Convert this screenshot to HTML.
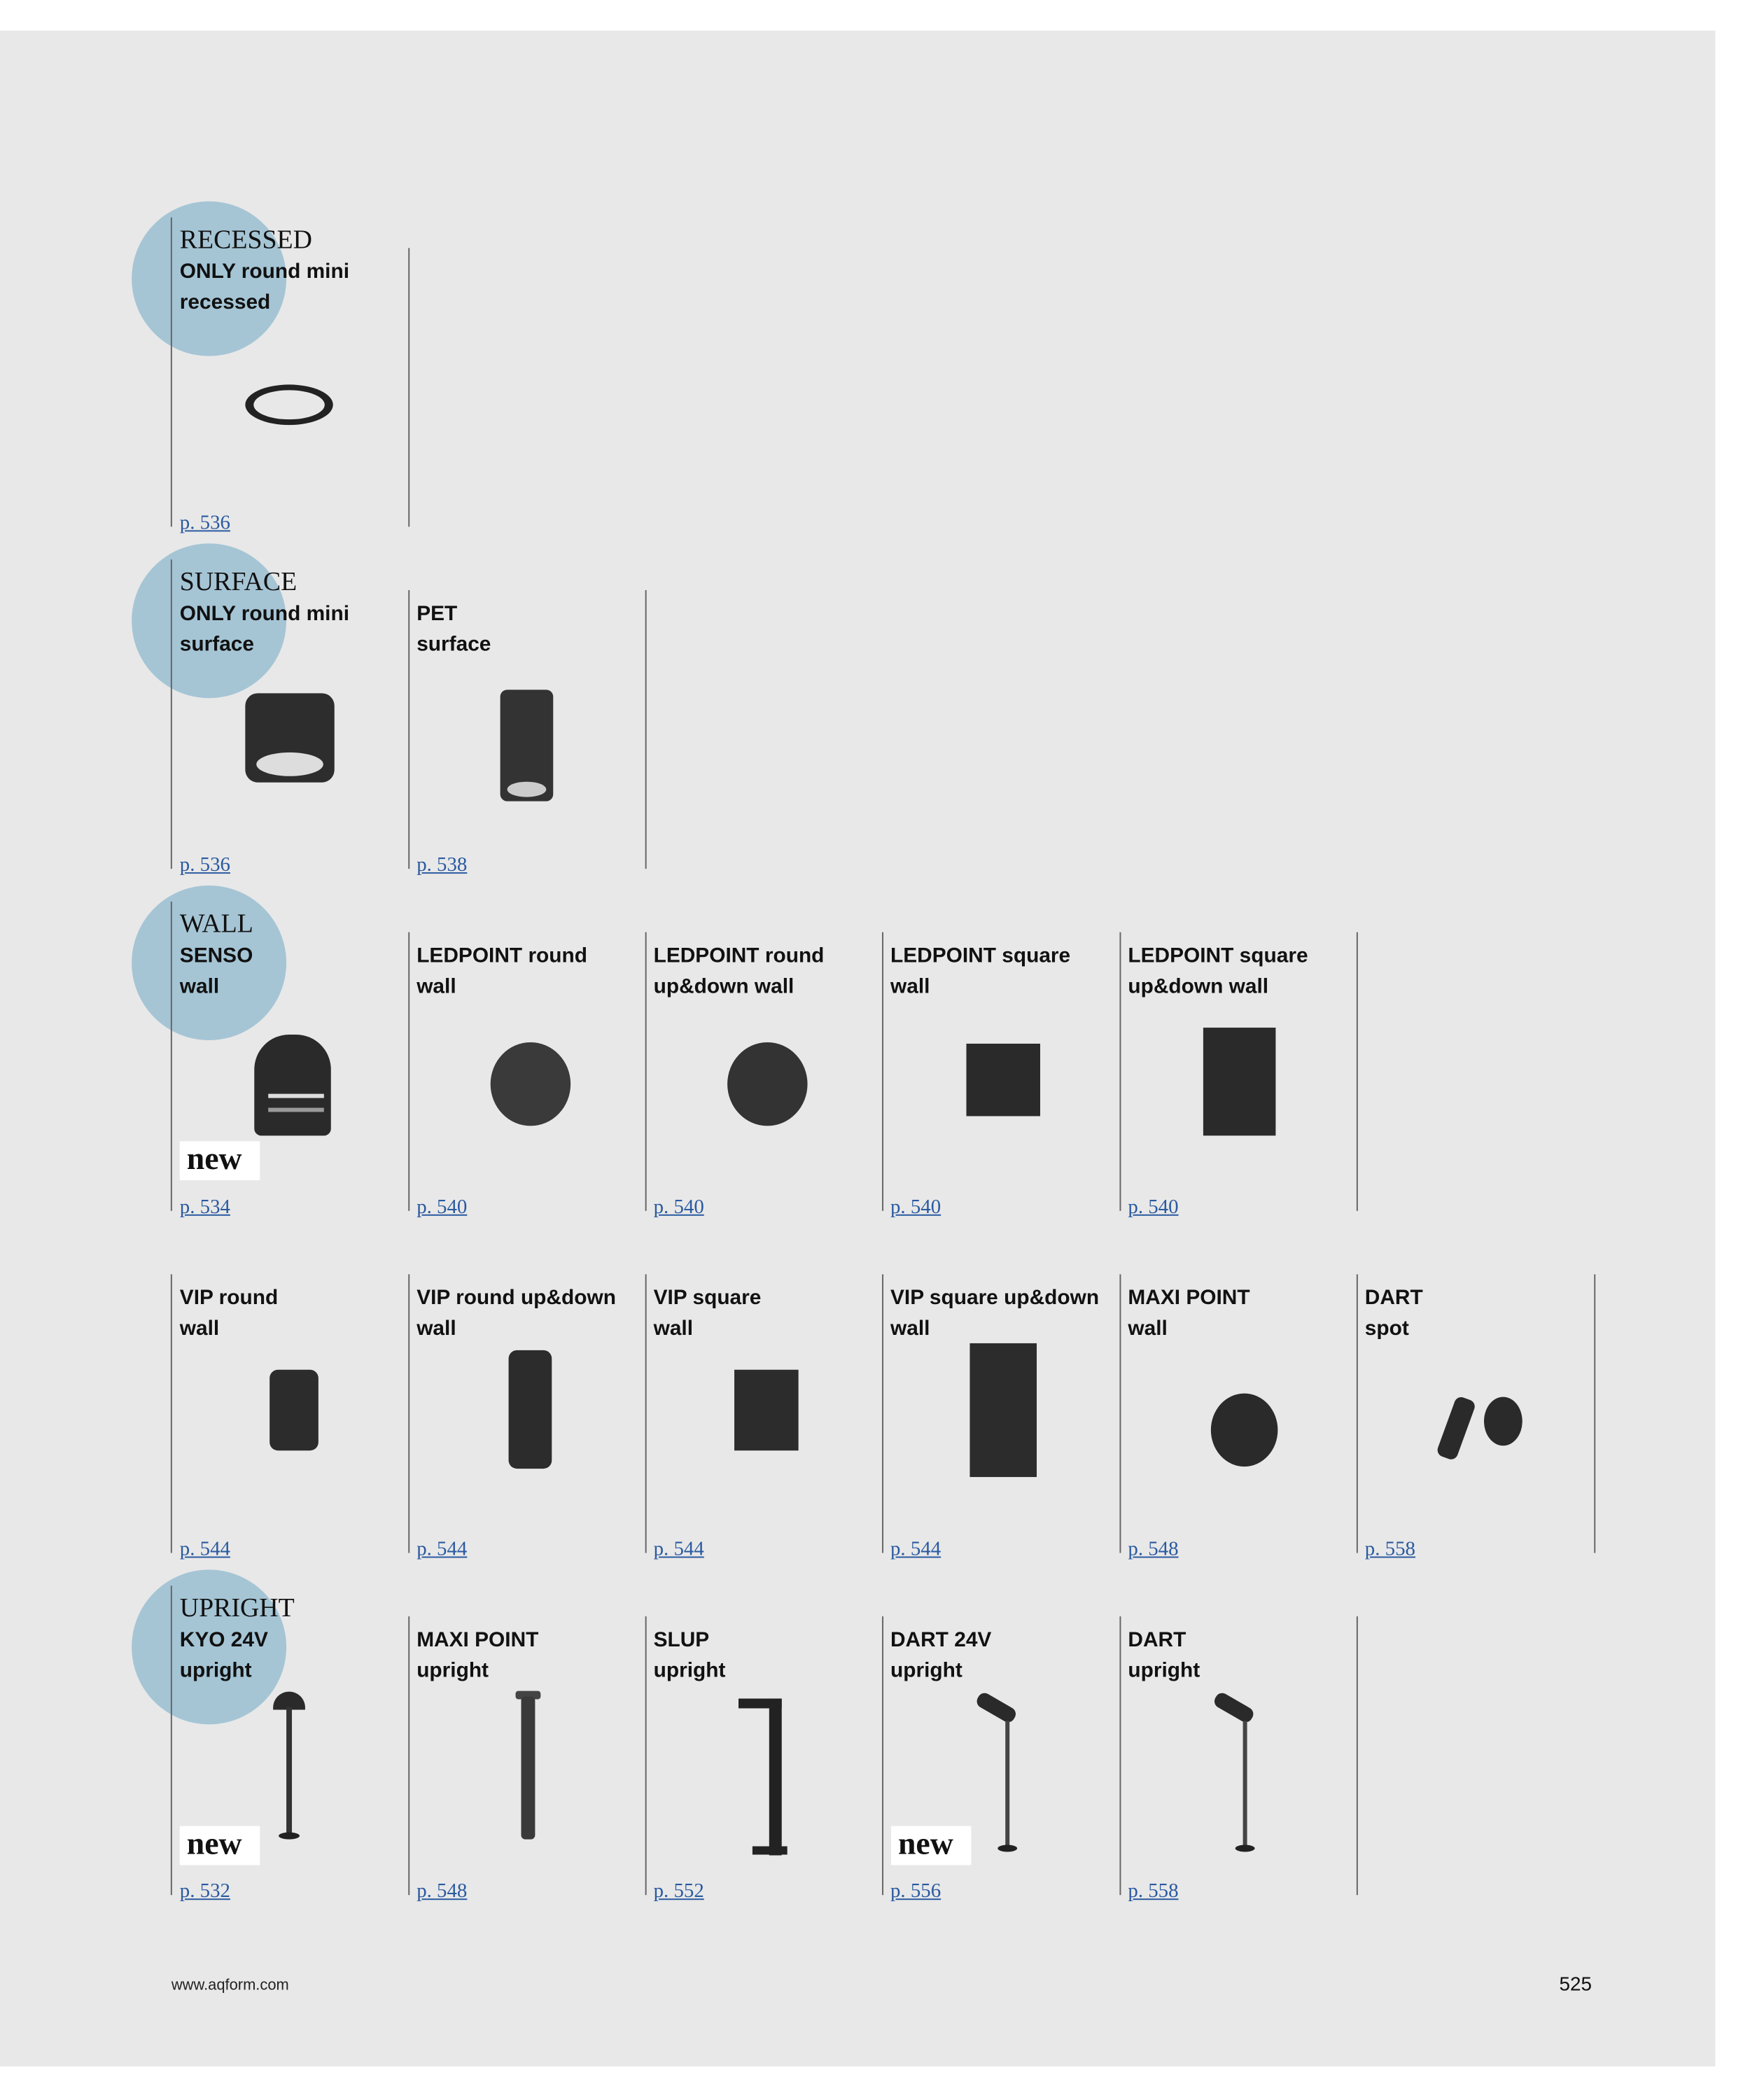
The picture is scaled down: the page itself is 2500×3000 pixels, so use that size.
<!DOCTYPE html>
<html><head><meta charset="utf-8"><style>
*{margin:0;padding:0;box-sizing:border-box}
body{width:2500px;height:3000px;background:#fff;position:relative;overflow:hidden;font-family:"Liberation Sans",sans-serif}
#w{position:absolute;left:0;top:0;width:2500px;height:3000px;transform:scale(0.9953);transform-origin:0 0}
.pg{position:absolute;left:0;top:44px;width:2462px;height:2922px;background:#e8e8e8}
.c{position:absolute;width:222px;height:222px;border-radius:50%;background:#a5c5d5}
.l{position:absolute;width:2px;background:#666;height:400px}
.t{position:absolute;font-family:"Liberation Serif",serif;font-size:38px;line-height:44px;color:#111}
.b{position:absolute;font-weight:bold;font-size:30px;line-height:44px;color:#111;white-space:nowrap}
.p{position:absolute;font-family:"Liberation Serif",serif;font-size:29px;line-height:34px;color:#2a5aa0;text-decoration:underline}
.n{position:absolute;background:#fff;width:115px;height:56px;font-family:"Liberation Serif",serif;font-weight:bold;font-size:46px;line-height:50px;padding-left:10px;color:#111}
</style></head><body><div id="w">
<div class="pg"></div>
<div class="c" style="left:189px;top:289px"></div>
<div class="c" style="left:189px;top:780px"></div>
<div class="c" style="left:189px;top:1271px"></div>
<div class="c" style="left:189px;top:2253px"></div>
<div class="l" style="left:245px;top:312px;height:444px"></div>
<div class="l" style="left:586px;top:356px"></div>
<div class="l" style="left:245px;top:803px;height:444px"></div>
<div class="l" style="left:586px;top:847px"></div>
<div class="l" style="left:926px;top:847px"></div>
<div class="l" style="left:245px;top:1294px;height:444px"></div>
<div class="l" style="left:586px;top:1338px"></div>
<div class="l" style="left:926px;top:1338px"></div>
<div class="l" style="left:1266px;top:1338px"></div>
<div class="l" style="left:1607px;top:1338px"></div>
<div class="l" style="left:1947px;top:1338px"></div>
<div class="l" style="left:245px;top:1829px"></div>
<div class="l" style="left:586px;top:1829px"></div>
<div class="l" style="left:926px;top:1829px"></div>
<div class="l" style="left:1266px;top:1829px"></div>
<div class="l" style="left:1607px;top:1829px"></div>
<div class="l" style="left:1947px;top:1829px"></div>
<div class="l" style="left:2288px;top:1829px"></div>
<div class="l" style="left:245px;top:2276px;height:444px"></div>
<div class="l" style="left:586px;top:2320px"></div>
<div class="l" style="left:926px;top:2320px"></div>
<div class="l" style="left:1266px;top:2320px"></div>
<div class="l" style="left:1607px;top:2320px"></div>
<div class="l" style="left:1947px;top:2320px"></div>

<div class="t" style="left:258px;top:322px">RECESSED</div>
<div class="b" style="left:258px;top:368px">ONLY round mini<br>recessed</div>
<div class="p" style="left:258px;top:733px">p. 536</div>
<div class="t" style="left:258px;top:813px">SURFACE</div>
<div class="b" style="left:258px;top:859px">ONLY round mini<br>surface</div>
<div class="p" style="left:258px;top:1224px">p. 536</div>
<div class="b" style="left:598px;top:859px">PET<br>surface</div>
<div class="p" style="left:598px;top:1224px">p. 538</div>
<div class="t" style="left:258px;top:1304px">WALL</div>
<div class="b" style="left:258px;top:1350px">SENSO<br>wall</div>
<div class="p" style="left:258px;top:1715px">p. 534</div>
<div class="b" style="left:598px;top:1350px">LEDPOINT round<br>wall</div>
<div class="p" style="left:598px;top:1715px">p. 540</div>
<div class="b" style="left:938px;top:1350px">LEDPOINT round<br>up&amp;down wall</div>
<div class="p" style="left:938px;top:1715px">p. 540</div>
<div class="b" style="left:1278px;top:1350px">LEDPOINT square<br>wall</div>
<div class="p" style="left:1278px;top:1715px">p. 540</div>
<div class="b" style="left:1619px;top:1350px">LEDPOINT square<br>up&amp;down wall</div>
<div class="p" style="left:1619px;top:1715px">p. 540</div>
<div class="b" style="left:258px;top:1841px">VIP round<br>wall</div>
<div class="p" style="left:258px;top:2206px">p. 544</div>
<div class="b" style="left:598px;top:1841px">VIP round up&amp;down<br>wall</div>
<div class="p" style="left:598px;top:2206px">p. 544</div>
<div class="b" style="left:938px;top:1841px">VIP square<br>wall</div>
<div class="p" style="left:938px;top:2206px">p. 544</div>
<div class="b" style="left:1278px;top:1841px">VIP square up&amp;down<br>wall</div>
<div class="p" style="left:1278px;top:2206px">p. 544</div>
<div class="b" style="left:1619px;top:1841px">MAXI POINT<br>wall</div>
<div class="p" style="left:1619px;top:2206px">p. 548</div>
<div class="b" style="left:1959px;top:1841px">DART<br>spot</div>
<div class="p" style="left:1959px;top:2206px">p. 558</div>
<div class="t" style="left:258px;top:2286px">UPRIGHT</div>
<div class="b" style="left:258px;top:2332px">KYO 24V<br>upright</div>
<div class="p" style="left:258px;top:2697px">p. 532</div>
<div class="b" style="left:598px;top:2332px">MAXI POINT<br>upright</div>
<div class="p" style="left:598px;top:2697px">p. 548</div>
<div class="b" style="left:938px;top:2332px">SLUP<br>upright</div>
<div class="p" style="left:938px;top:2697px">p. 552</div>
<div class="b" style="left:1278px;top:2332px">DART 24V<br>upright</div>
<div class="p" style="left:1278px;top:2697px">p. 556</div>
<div class="b" style="left:1619px;top:2332px">DART<br>upright</div>
<div class="p" style="left:1619px;top:2697px">p. 558</div>

<div style="position:absolute;left:352px;top:552px;width:126px;height:58px;border-radius:50%;background:#222;"></div>
<div style="position:absolute;left:364px;top:560px;width:102px;height:42px;border-radius:50%;background:#e8e8e8;"></div>
<div style="position:absolute;left:352px;top:995px;width:128px;height:128px;border-radius:18px;background:#2d2d2d"></div>
<div style="position:absolute;left:368px;top:1080px;width:96px;height:34px;border-radius:50%;background:#ddd"></div>
<div style="position:absolute;left:718px;top:990px;width:76px;height:160px;border-radius:10px;background:#333"></div>
<div style="position:absolute;left:728px;top:1122px;width:56px;height:22px;border-radius:50%;background:#ccc"></div>
<div style="position:absolute;left:365px;top:1485px;width:110px;height:145px;border-radius:50px 50px 10px 10px;background:#2a2a2a"></div>
<div style="position:absolute;left:385px;top:1570px;width:80px;height:6px;background:#ddd"></div>
<div style="position:absolute;left:385px;top:1590px;width:80px;height:6px;background:#999"></div>
<div style="position:absolute;left:704px;top:1496px;width:115px;height:120px;border-radius:50%;background:#3a3a3a"></div>
<div style="position:absolute;left:1044px;top:1496px;width:115px;height:120px;border-radius:50%;background:#333"></div>
<div style="position:absolute;left:1387px;top:1498px;width:106px;height:104px;background:#2a2a2a"></div>
<div style="position:absolute;left:1727px;top:1475px;width:104px;height:155px;background:#2a2a2a"></div>
<div style="position:absolute;left:387px;top:1966px;width:70px;height:116px;border-radius:12px;background:#2c2c2c"></div>
<div style="position:absolute;left:730px;top:1938px;width:62px;height:170px;border-radius:12px;background:#2c2c2c"></div>
<div style="position:absolute;left:1054px;top:1966px;width:92px;height:116px;background:#2c2c2c"></div>
<div style="position:absolute;left:1392px;top:1928px;width:96px;height:192px;background:#2c2c2c"></div>
<div style="position:absolute;left:1738px;top:2000px;width:96px;height:105px;border-radius:50%;background:#2a2a2a"></div>
<div style="position:absolute;left:2075px;top:2005px;width:30px;height:90px;border-radius:10px;background:#2a2a2a;transform:rotate(20deg)"></div>
<div style="position:absolute;left:2130px;top:2005px;width:55px;height:70px;border-radius:50%;background:#2a2a2a"></div>
<div style="position:absolute;left:392px;top:2428px;width:46px;height:26px;border-radius:23px 23px 0 0;background:#2a2a2a"></div>
<div style="position:absolute;left:411px;top:2450px;width:8px;height:188px;background:#333"></div>
<div style="position:absolute;left:400px;top:2630px;width:30px;height:10px;border-radius:50%;background:#222"></div>
<div style="position:absolute;left:740px;top:2427px;width:36px;height:12px;border-radius:4px;background:#444"></div>
<div style="position:absolute;left:748px;top:2435px;width:20px;height:205px;border-radius:6px;background:#3a3a3a"></div>
<div style="position:absolute;left:1060px;top:2438px;width:62px;height:14px;background:#222"></div>
<div style="position:absolute;left:1104px;top:2438px;width:18px;height:225px;background:#222"></div>
<div style="position:absolute;left:1080px;top:2650px;width:50px;height:12px;background:#222"></div>
<div style="position:absolute;left:1400px;top:2440px;width:60px;height:22px;border-radius:10px;background:#2a2a2a;transform:rotate(30deg)"></div>
<div style="position:absolute;left:1443px;top:2470px;width:6px;height:185px;background:#444"></div>
<div style="position:absolute;left:1432px;top:2648px;width:28px;height:10px;border-radius:50%;background:#222"></div>
<div style="position:absolute;left:1741px;top:2440px;width:60px;height:22px;border-radius:10px;background:#2a2a2a;transform:rotate(30deg)"></div>
<div style="position:absolute;left:1784px;top:2470px;width:6px;height:185px;background:#444"></div>
<div style="position:absolute;left:1773px;top:2648px;width:28px;height:10px;border-radius:50%;background:#222"></div>

<div class="n" style="left:258px;top:1638px">new</div>
<div class="n" style="left:258px;top:2621px">new</div>
<div class="n" style="left:1279px;top:2621px">new</div>

<div style="position:absolute;left:246px;top:2836px;font-size:22px;color:#222">www.aqform.com</div>
<div style="position:absolute;left:2238px;top:2832px;font-size:28px;color:#111">525</div>
</div></body></html>
